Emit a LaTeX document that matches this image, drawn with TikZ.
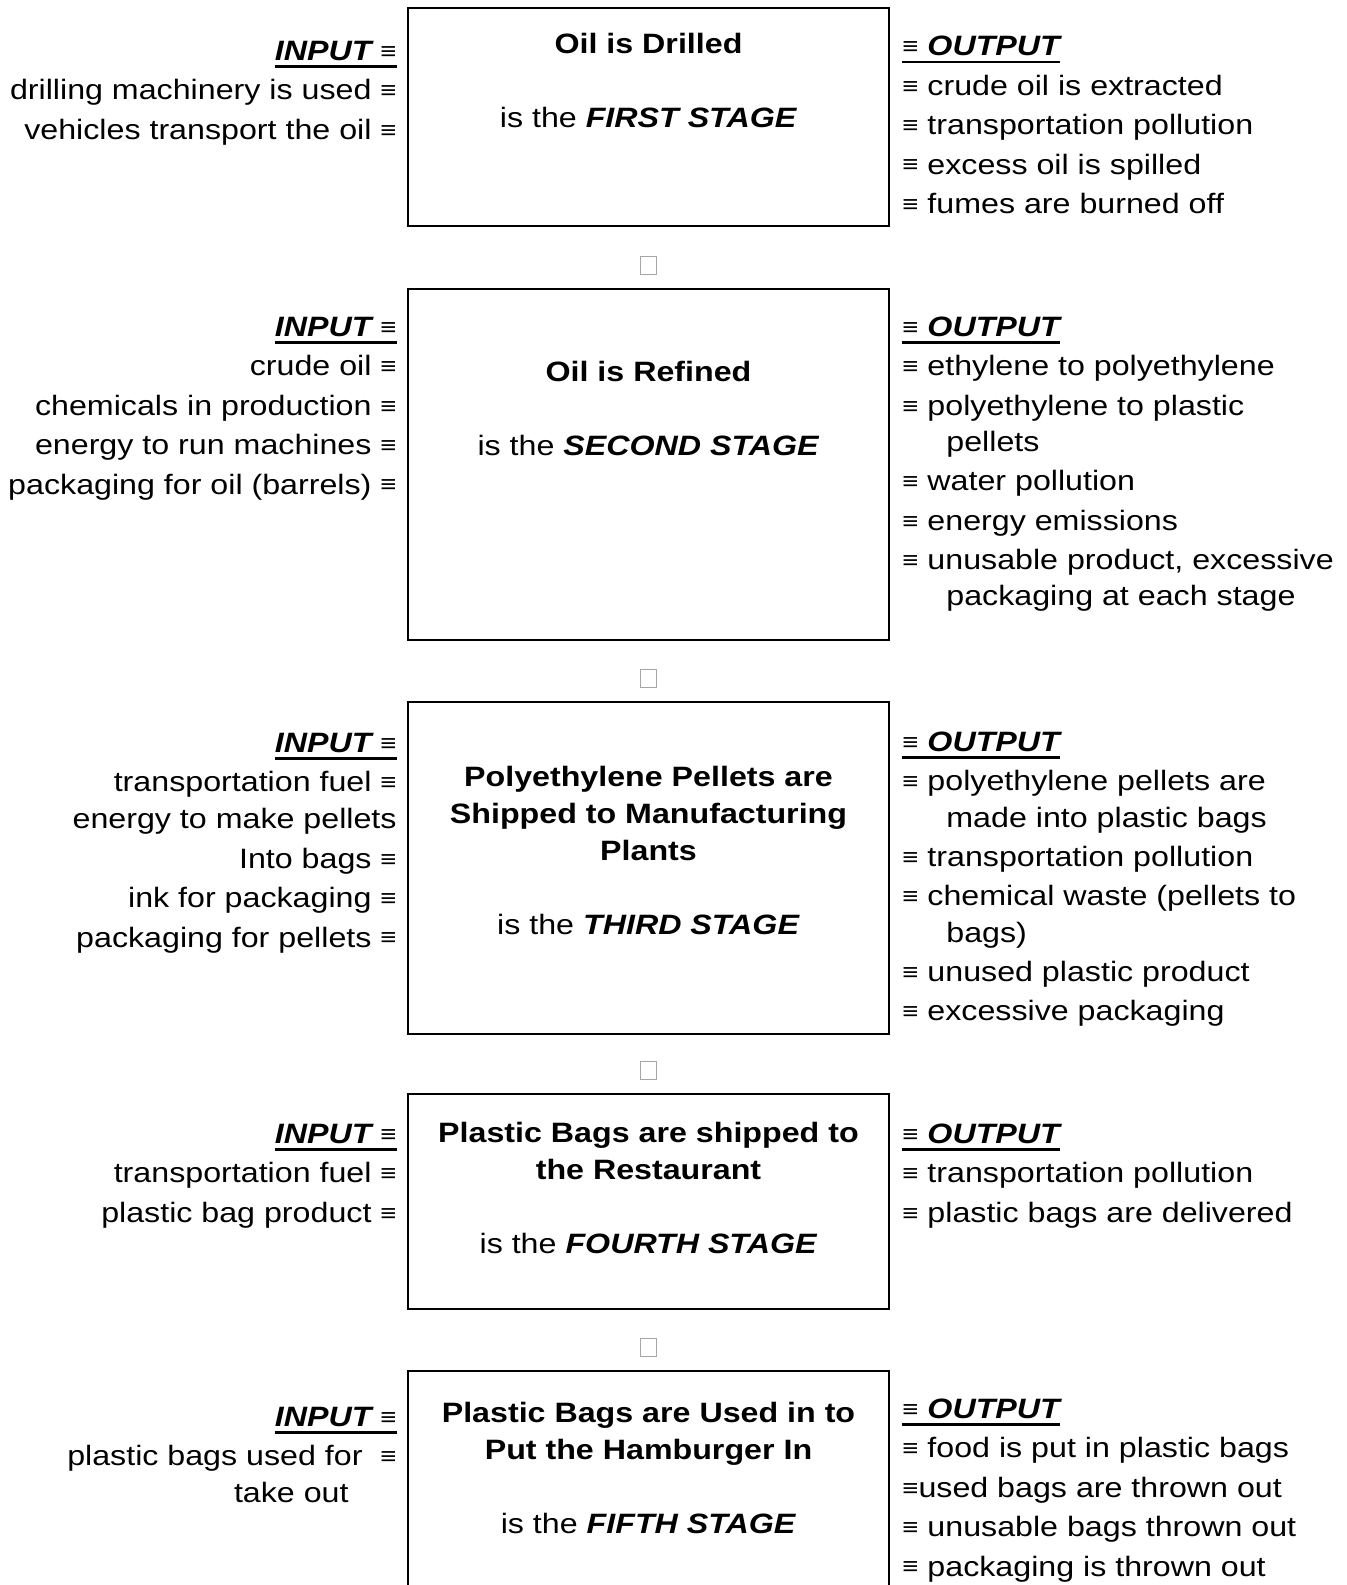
\documentclass[tikz,border=0pt]{standalone}
\usepackage{fontspec}
\setmainfont{Liberation Sans}[FakeStretch=1.15]
\newsavebox\ulbox
\newcommand\idn{\raisebox{0.6pt}{\fontsize{12}{10}\selectfont ≡}}
\newcommand\tallstrut{\rule{0pt}{14pt}}
\newcommand\ulin[1]{\sbox\ulbox{#1}\rlap{\rule[-3.7pt]{\wd\ulbox}{1.2pt}}\usebox\ulbox}
\newcommand\inhead{\tallstrut\ulin{\bfseries\itshape INPUT \idn}}
\newcommand\outhead{\tallstrut\ulin{\bfseries\itshape \idn{} OUTPUT}}
\tikzset{
	stagebox/.style={draw, line width=1pt, minimum width=240.5pt, inner sep=0pt},
	stagetext/.style={anchor=north, align=center, inner sep=0pt, font=\fontsize{14}{18.5}\selectfont},
	inlist/.style={anchor=north east, align=right, inner sep=0pt, font=\fontsize{14}{19.7}\selectfont},
	outlist/.style={anchor=north west, align=left, inner sep=0pt, font=\fontsize{14}{19.7}\selectfont},
	gapbox/.style={draw=gray!70, line width=0.4pt, minimum width=8pt, minimum height=9pt, inner sep=0pt}
}

\begin{document}
\begin{tikzpicture}[x=0.5pt, y=-0.5pt]
			\useasboundingbox (0,0) rectangle (1347,1585);
			\clip (0,0) rectangle (1347,1585);
			\node[stagebox, minimum height=109pt] (box1) at (648.5,117) {};
			\node[stagebox, minimum height=175.5pt] (box2) at (648.5,464.5) {};
			\node[stagebox, minimum height=166pt] (box3) at (648.5,868) {};
			\node[stagebox, minimum height=107.5pt] (box4) at (648.5,1201.5) {};
			\node[stagebox, minimum height=124.5pt] (box5) at (648.5,1495.5) {};
			\node[gapbox] (gap1) at (648.5,265) {};
			\node[gapbox] (gap2) at (648.5,678) {};
			\node[gapbox] (gap3) at (648.5,1070) {};
			\node[gapbox] (gap4) at (648.5,1347) {};

			\node[stagetext] (stage1) at (648.5,25.5) {\tallstrut\textbf{Oil is Drilled}\\[18.5pt] is the \textbf{\textit{FIRST STAGE}}};
			\node[inlist] (in1) at (397,32) {\inhead\\ drilling machinery is used \idn\\ vehicles transport the oil \idn};
			\node[outlist] (out1) at (902,27.5) {\outhead\\ \idn{} crude oil is extracted\\ \idn{} transportation pollution\\ \idn{} excess oil is spilled\\ \idn{} fumes are burned off};

			\node[stagetext] (stage2) at (648.5,353) {\tallstrut\textbf{Oil is Refined}\\[18.5pt] is the \textbf{\textit{SECOND STAGE}}};
			\node[inlist] (in2) at (397,308) {\inhead\\ crude oil \idn\\ chemicals in production \idn\\ energy to run machines \idn\\ packaging for oil (barrels) \idn};
			\node[outlist] (out2) at (902,308) {\outhead\\ \idn{} ethylene to polyethylene\\ \idn{} polyethylene to plastic\\[-1.6pt] \hspace*{22pt}pellets\\ \idn{} water pollution\\ \idn{} energy emissions\\ \idn{} unusable product, excessive\\[-1.6pt] \hspace*{22pt}packaging at each stage};

			\node[stagetext] (stage3) at (648.5,758) {\tallstrut\textbf{Polyethylene Pellets are}\\ \textbf{Shipped to Manufacturing}\\ \textbf{Plants}\\[18.5pt] is the \textbf{\textit{THIRD STAGE}}};
			\node[inlist] (in3) at (397,724) {\inhead\\ transportation fuel \idn\\[-1.2pt] energy to make pellets\\ Into bags \idn\\ ink for packaging \idn\\ packaging for pellets \idn};
			\node[outlist] (out3) at (902,723) {\outhead\\ \idn{} polyethylene pellets are\\[-1.6pt] \hspace*{22pt}made into plastic bags\\ \idn{} transportation pollution\\ \idn{} chemical waste (pellets to\\[-1.6pt] \hspace*{22pt}bags)\\ \idn{} unused plastic product\\ \idn{} excessive packaging};

			\node[stagetext] (stage4) at (648.5,1114) {\tallstrut\textbf{Plastic Bags are shipped to}\\ \textbf{the Restaurant}\\[18.5pt] is the \textbf{\textit{FOURTH STAGE}}};
			\node[inlist] (in4) at (397,1115) {\inhead\\ transportation fuel \idn\\ plastic bag product \idn};
			\node[outlist] (out4) at (902,1115) {\outhead\\ \idn{} transportation pollution\\ \idn{} plastic bags are delivered};

			\node[stagetext] (stage5) at (648.5,1394) {\tallstrut\textbf{Plastic Bags are Used in to}\\ \textbf{Put the Hamburger In}\\[18.5pt] is the \textbf{\textit{FIFTH STAGE}}};
			\node[inlist] (in5) at (397,1398) {\inhead\\ plastic bags used for\ \ \idn\\[-1.2pt] take out\hspace*{24pt}};
			\node[outlist] (out5) at (902,1390) {\outhead\\ \idn{} food is put in plastic bags\\ \idn used bags are thrown out\\ \idn{} unusable bags thrown out\\ \idn{} packaging is thrown out};
		\end{tikzpicture}
\end{document}
